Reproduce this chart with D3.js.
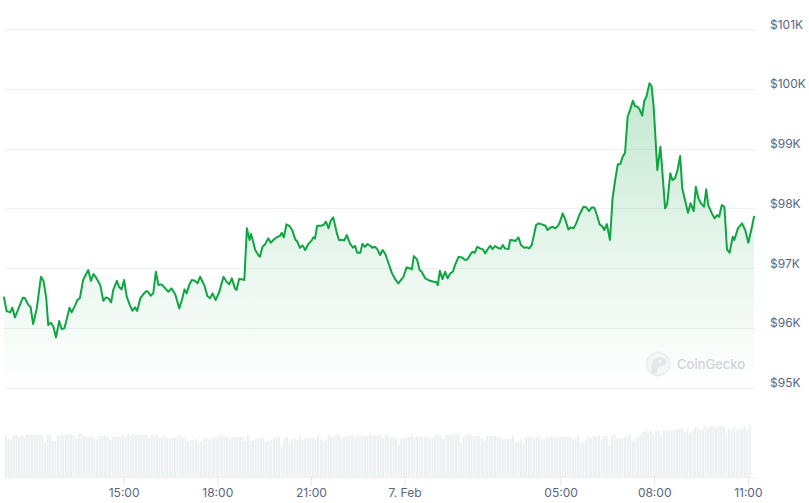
<!DOCTYPE html>
<html>
<head>
<meta charset="utf-8">
<script src="https://cdn.jsdelivr.net/npm/d3@7"></script>
<style>
  html, body { margin: 0; padding: 0; background: #ffffff; }
  svg { display: block; font-family: Inter, "Noto Sans", sans-serif; }
</style>
</head>
<body>
<svg id="chart" width="809" height="503"></svg>
<script>
// ---------------- DATA ----------------
const startTime = "2025-02-06T11:10";
const endTime = "2025-02-07T11:10";

// minutes after startTime for each price point
const priceMinutes = [
  0,5,12,16,21,28,36,40,47,51, 56,63,71,76,81,85,90,95,100,106,
  111,116,121,126,130,137,141,146,152,158, 162,167,172,178,185,191,196,201,206,210,
  217,221,226,231,236,242,247,252,256,262, 268,274,277,282,287,292,297,303,310,316,
  322,329,337,342,347,351,356,361,367,372, 377,
  385,391,396,401,407,414,422,428,433,438, 444,447,452,458,462,467,472,475,479,483,
  489,492,497,502,508,513,519,526,531,534, 538,543,549,554,560,564,569,574,579,585,
  592,595,598,602,609,614,619,624,628,633, 640,644,651,654,659,665,671,675,679,685,
  689,694,699,704,708,713,718,723,728,733, 739,746,752,758,
  768,774,781,784,788,794,799,803,810,819, 826,831,834,838,843,848,853,858,863,867,
  874,880,887,891,898,901,905,910,915,921, 925,930,935,939,944,951,955,959,963,970,
  973,978,983,989,994,1000,1005,1010,1015,1023, 1028,1034,1041,1045,1050,1055,1060,1066,1069,1074,
  1079,1085,1090,1095,1100,1106,
  1114,1119,1125,1130,1135,1140,1145,1151,1154,1159, 1165,1170,1175,1180,1185,1189,1194,1199,1204,1209,
  1213,1218,1222,1227,1231,1235,1241,1245,1249,1252, 1256,1262,1266,1271,1275,1281,1285,1290,1295,1300,
  1304,1310,1315,1320,1326,1330,1335,1340,1346,1350, 1354,1361,1366,1371,1375,1380,1385,1390,1395,1401,
  1404,1411,1419,1425,1431,1438,1442
];

// BTC price in USD
const prices = [
  96509,96280,96258,96335,96174,96325,96503,96500,96380,96352,
  96062,96325,96854,96782,96519,96045,96084,96017,95839,96112,
  95978,95990,96157,96335,96258,96380,96464,96498,96799,96900,
  96967,96787,96900,96827,96715,96452,96509,96493,96425,96632,
  96787,96687,96643,96799,96519,96380,96285,96342,96280,96493,
  96565,96615,96603,96536,96576,96938,96715,96727,96660,96603,
  96660,96565,96325,96464,96643,96576,96715,96799,96787,96744,
  96854,
  96715,96531,96493,96576,96464,96603,96854,96771,96727,96827,
  96660,96632,96816,96811,96799,97665,97469,97570,97441,97302,
  97218,97189,97357,97397,97497,97424,97481,97524,97541,97591,
  97514,97732,97704,97637,97481,97441,97340,97380,97302,97402,
  97469,97514,97497,97709,97709,97720,97776,97665,97792,97849,
  97581,97469,97469,97460,97553,97414,97340,97374,97256,97256,
  97402,97357,97402,97374,97340,97357,97313,97218,97302,97235,
  97089,96911,96816,96744,
  96854,97012,96995,96978,97201,97146,96967,96938,96827,96787,
  96771,96765,96715,96955,96816,96938,96827,96911,96938,97050,
  97189,97179,97134,97146,97246,97273,97256,97357,97330,97313,
  97246,97318,97374,97318,97369,97330,97325,97385,97330,97318,
  97469,97465,97452,97514,97385,97340,97347,97330,97397,97720,
  97749,97732,97709,97637,97675,97692,97665,97720,97776,97916,
  97816,97648,97682,97665,97749,97888,
  98027,98020,97955,98017,98010,97888,97732,97692,97637,97737,
  97469,98168,98474,98737,98742,98854,98931,99534,99658,99802,
  99714,99702,99658,99551,99802,99869,100094,100049,99702,99256,
  98642,99032,98586,98000,98072,98586,98474,98502,98642,98876,
  98335,98111,97926,98084,97955,98362,98168,98084,98027,98318,
  98055,97916,97832,97888,97859,98055,98027,97313,97256,97524,
  97469,97665,97749,97637,97424,97692,97860
];

// 24h rolling volume (billions USD), one bar every 5 minutes from startTime
const volumeStepMinutes = 5;
const volumes = [
  42.3,38.7,37.3,41.3,42.3,40.3,42.3,40.3,42.3,42.3,42.3,42.3,
  42.3,42.3,42.3,35.3,42.3,42.3,36.3,36.3,41.3,42.3,42.3,42.3,
  43.3,43.3,42.3,38.3,43.3,43.3,41.3,40.3,40.3,41.3,38.3,38.3,
  41.3,41.3,41.3,40.3,37.3,40.3,40.3,41.3,40.3,41.3,40.3,43.3,
  41.3,43.3,42.3,42.3,42.3,42.3,42.3,39.3,42.3,42.3,42.3,39.3,
  39.3,41.3,38.3,38.3,39.3,39.3,40.3,41.3,39.3,39.3,36.3,37.3,
  37.3,38.0,35.0,35.3,39.0,39.0,37.3,39.0,40.0,39.3,41.3,41.3,
  41.3,40.0,38.0,40.0,40.0,40.0,41.3,40.0,36.3,41.3,36.3,36.3,
  38.0,39.0,39.0,40.0,35.3,36.3,37.3,39.0,40.0,40.0,30.0,38.3,
  40.0,35.3,38.3,38.3,37.3,41.3,37.3,39.0,39.0,39.0,39.0,38.0,
  42.3,38.3,36.3,37.3,42.3,40.0,40.0,42.3,42.3,38.3,40.0,41.3,
  41.3,41.3,40.0,41.3,42.3,41.3,41.3,41.3,42.3,42.3,41.3,41.3,
  42.3,39.0,42.3,42.3,40.0,40.0,38.0,32.3,38.0,39.0,40.0,40.0,
  42.3,40.0,40.0,40.0,40.0,40.0,41.3,39.0,40.0,42.3,42.3,42.3,
  38.0,42.3,42.3,42.3,43.3,43.3,43.3,34.0,40.0,42.3,43.3,41.3,
  41.3,41.3,41.3,38.0,36.3,41.3,41.3,41.3,41.3,40.0,40.0,38.0,
  38.0,38.0,38.0,41.3,34.0,35.3,38.0,34.0,40.0,40.0,40.0,39.0,
  40.0,41.3,38.0,38.0,40.0,40.0,40.0,39.0,40.0,40.0,40.0,40.0,
  40.0,
  40.0,38.0,39.0,41.3,34.6,34.6,37.3,41.3,39.0,41.3,40.0,41.3,
  38.0,41.3,41.3,32.3,42.3,42.3,38.3,39.0,38.3,40.0,42.3,43.3,
  36.3,39.0,40.6,43.3,45.3,46.3,45.3,46.3,43.3,46.3,46.3,41.3,
  47.3,45.3,46.3,46.3,47.3,47.3,48.3,48.3,45.3,48.3,44.0,
  46.3,49.3,49.3,47.3,48.3,50.6,49.3,50.6,50.6,49.3,50.6,
  50.6,50.6,43.3,48.3,46.3,50.6,46.3,48.3,48.3,51.3,48.3,51.6
];

const yTickValues = [95000, 96000, 97000, 98000, 99000, 100000, 101000];
const xTickTimes = ["2025-02-06T15:00","2025-02-06T18:00","2025-02-06T21:00","2025-02-07T00:00","2025-02-07T05:00","2025-02-07T08:00","2025-02-07T11:00"];
const xTickLabels = ["15:00","18:00","21:00","7. Feb","05:00","08:00","11:00"];

// ---------------- CHART ----------------
const parse = d3.timeParse("%Y-%m-%dT%H:%M");
const t0 = parse(startTime);
const svg = d3.select("#chart");

const x = d3.scaleTime().domain([t0, parse(endTime)]).range([4, 753]);
const y = d3.scaleLinear().domain([95000, 101000]).range([387.5, 29.2]);
const vY = d3.scaleLinear().domain([0, 50]).range([477, 427]);

const series = priceMinutes.map((m, i) => ({ t: d3.timeMinute.offset(t0, m), p: prices[i] }));

const lineColor = "#10a543";

// gradient
const defs = svg.append("defs");
const grad = defs.append("linearGradient")
  .attr("id", "areaGrad").attr("gradientUnits", "userSpaceOnUse")
  .attr("x1", 0).attr("x2", 0).attr("y1", y(100100)).attr("y2", y(95000));
grad.append("stop").attr("offset", 0).attr("stop-color", lineColor).attr("stop-opacity", 0.26);
grad.append("stop").attr("offset", 0.55).attr("stop-color", lineColor).attr("stop-opacity", 0.1);
grad.append("stop").attr("offset", 1).attr("stop-color", lineColor).attr("stop-opacity", 0.0);

// gridlines
const grid = svg.append("g")
  .attr("transform", "translate(4,0)")
  .call(d3.axisLeft(y).tickValues(yTickValues).tickSize(-751).tickFormat(""));
grid.select(".domain").remove();
grid.selectAll("line").attr("stroke", "#eff1f3").attr("stroke-width", 1)
  .attr("shape-rendering", "crispEdges");

// volume bars
const pitch = x(d3.timeMinute.offset(t0, volumeStepMinutes)) - x(t0);
svg.append("g").selectAll("rect").data(volumes).join("rect")
  .attr("x", (d, i) => x(d3.timeMinute.offset(t0, i * volumeStepMinutes)) + 1)
  .attr("width", pitch * 0.78)
  .attr("y", d => vY(d))
  .attr("height", d => vY(0) - vY(d))
  .attr("fill", "#edf0f2");

// x axis
const xAxis = svg.append("g")
  .attr("transform", "translate(0,477)")
  .call(d3.axisBottom(x)
    .tickValues(xTickTimes.map(parse))
    .tickFormat((d, i) => xTickLabels[i])
    .tickSize(9).tickPadding(2));
xAxis.select(".domain").attr("stroke", "#eef0f2").attr("d", "M4,0.5H755");
xAxis.selectAll(".tick line").attr("stroke", "#e3e6ea");
xAxis.selectAll("text").attr("fill", "#58667e").attr("font-size", 12)
  .attr("font-family", "Inter, 'Noto Sans', sans-serif");

// y axis labels
const yAxis = svg.append("g")
  .attr("transform", "translate(770,0)")
  .call(d3.axisRight(y).tickValues(yTickValues)
    .tickFormat(d => "$" + d / 1000 + "K").tickSize(0).tickPadding(0));
yAxis.select(".domain").remove();
yAxis.selectAll("text").attr("fill", "#58667e").attr("font-size", 12)
  .attr("dy", "-0.08em").attr("font-family", "Inter, 'Noto Sans', sans-serif");

// area + line
const area = d3.area().x(d => x(d.t)).y0(y(95000)).y1(d => y(d.p));
svg.append("path").datum(series).attr("d", area).attr("fill", "url(#areaGrad)");

// watermark
const wm = svg.append("g").attr("transform", "translate(658,364)").attr("opacity", 0.9);
wm.append("circle").attr("r", 12.5).attr("fill", "#eceef0");
wm.append("circle").attr("r", 10.5).attr("fill", "#f5f6f7");
wm.append("path").attr("d", "M-6,9 C-8,2 -6,-6 2,-7 C7,-7 9,-3 8,0 C6,2 2,2 0,4 C-1,6 -1,8 -2,10 Z").attr("fill", "#e2e5e8");
wm.append("circle").attr("cx", 2).attr("cy", -3).attr("r", 1.6).attr("fill", "#f7f8f9");
svg.append("text").attr("x", 677).attr("y", 369).text("CoinGecko")
  .attr("font-size", 13).attr("font-weight", 500).attr("fill", "#cfd3d8")
  .attr("font-family", "Inter, 'Noto Sans', sans-serif");

const line = d3.line().x(d => x(d.t)).y(d => y(d.p));
svg.append("path").datum(series).attr("d", line)
  .attr("fill", "none").attr("stroke", lineColor).attr("stroke-width", 2)
  .attr("stroke-linejoin", "round").attr("stroke-linecap", "round");
</script>
</body>
</html>
